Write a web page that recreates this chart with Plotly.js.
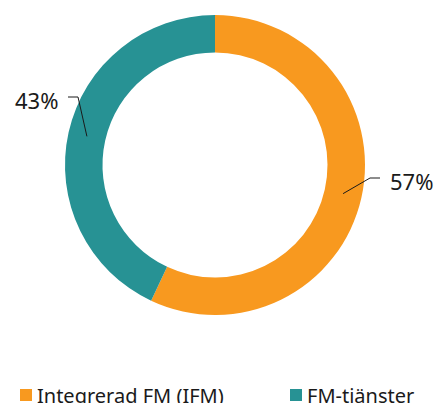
<!DOCTYPE html>
<html>
<head>
<meta charset="utf-8">
<script src="https://cdn.plot.ly/plotly-3.0.1.min.js"></script>
<style>html,body{margin:0;padding:0;background:#fff;}#chart{width:434px;height:403px;}</style>
</head>
<body>
<div id="chart"></div>
<script>
// Data
const categories = ["Integrerad FM (IFM)", "FM-tjänster"];
const values = [57, 43];
const colors = ["#F8991F", "#279294"];

// Layout geometry (pixels)
const W = 434, H = 403;
const cx = 215, cy = 165, R = 150, hole = 0.75;
// per-slice label elbow offsets relative to center, and text side
const labelCfg = [
  {elbow: [155, 13], dir: 1},
  {elbow: [-137, -68], dir: -1}
];
// legend entries: left x of each swatch, swatch size, row center y
const legendX = [20, 290], swatch = 12, legendY = 395;

const px = x => x / W;
const py = y => 1 - y / H;

const total = values.reduce((a, b) => a + b, 0);
const shapes = [], annotations = [];
let cum = 0;
values.forEach((v, i) => {
  const mid = (cum + v / 2) / total * 2 * Math.PI; // clockwise from top
  cum += v;
  const rm = R * (1 + hole) / 2;
  const sx = cx + rm * Math.sin(mid), sy = cy - rm * Math.cos(mid);
  const ex = cx + labelCfg[i].elbow[0], ey = cy + labelCfg[i].elbow[1];
  const hx = ex + 10 * labelCfg[i].dir;
  shapes.push({
    type: "path", xref: "paper", yref: "paper",
    path: `M${px(sx)},${py(sy)} L${px(ex)},${py(ey)} L${px(hx)},${py(ey)}`,
    line: {color: "#1a1a1a", width: 1}
  });
  annotations.push({
    xref: "paper", yref: "paper",
    x: px(hx + 8 * labelCfg[i].dir), y: py(ey + 3),
    xanchor: labelCfg[i].dir > 0 ? "left" : "right", yanchor: "middle",
    text: Math.round(v / total * 100) + "%", showarrow: false,
    font: {family: "Noto Sans, sans-serif", size: 22, color: "#1a1a1a"}
  });
});

// legend drawn from categories/colors
categories.forEach((c, i) => {
  const x0 = legendX[i];
  shapes.push({
    type: "rect", xref: "paper", yref: "paper",
    x0: px(x0), x1: px(x0 + swatch), y0: py(legendY + swatch / 2), y1: py(legendY - swatch / 2),
    fillcolor: colors[i], line: {width: 0}
  });
  annotations.push({
    xref: "paper", yref: "paper",
    x: px(x0 + swatch + 3), y: py(legendY), xanchor: "left", yanchor: "middle",
    text: c, showarrow: false,
    font: {family: "Noto Sans, sans-serif", size: 20, color: "#1a1a1a"}
  });
});

const trace = {
  type: "pie",
  labels: categories,
  values: values,
  hole: hole,
  sort: false,
  direction: "clockwise",
  rotation: 0,
  textinfo: "none",
  hoverinfo: "label+percent",
  marker: {colors: colors, line: {width: 0}},
  domain: {x: [px(cx - R), px(cx + R)], y: [py(cy + R), py(cy - R)]}
};

const layout = {
  width: W, height: H,
  margin: {l: 0, r: 0, t: 0, b: 0, autoexpand: false},
  paper_bgcolor: "#fff",
  showlegend: false,
  shapes: shapes,
  annotations: annotations
};

Plotly.newPlot("chart", [trace], layout, {displayModeBar: false, staticPlot: true});
</script>
</body>
</html>
